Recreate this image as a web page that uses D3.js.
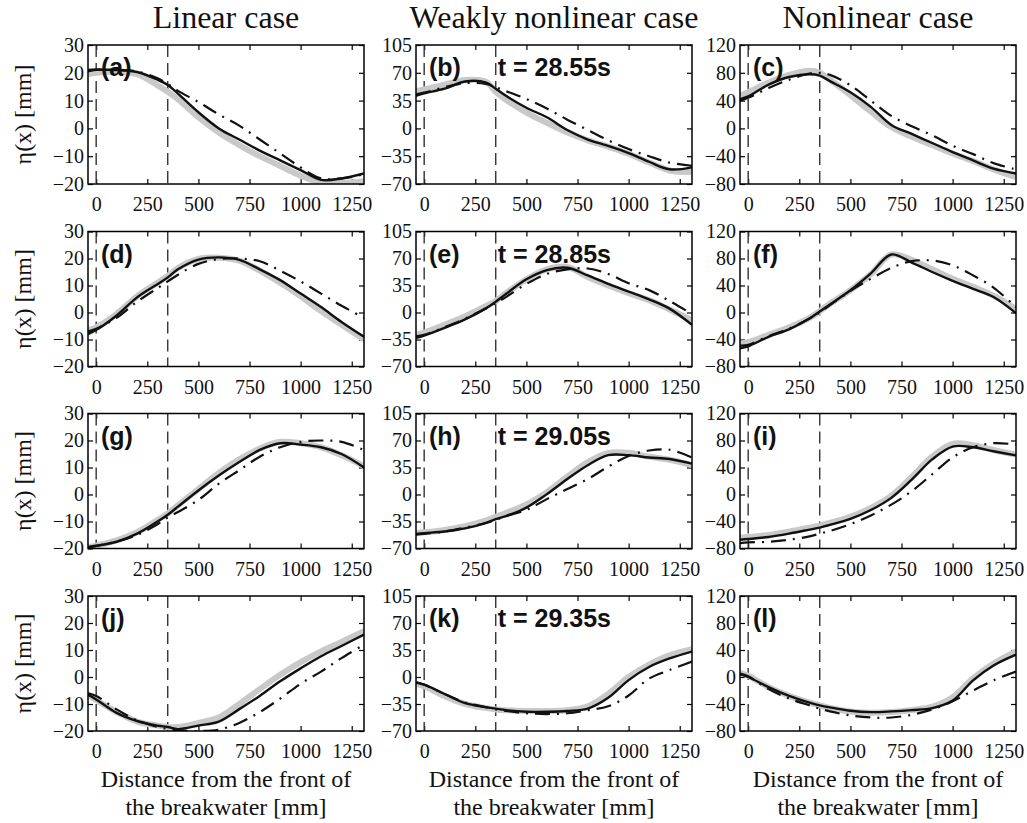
<!DOCTYPE html>
<html>
<head>
<meta charset="utf-8">
<script src="https://cdn.jsdelivr.net/npm/d3@7"></script>
<style>
  body { margin: 0; background: #fff; }
  svg text { fill: #111; }
</style>
</head>
<body>
<svg id="fig" width="1027" height="823"></svg>
<script>
// Free-surface profiles η(x) in front of and over the breakwater.
// Common abscissa (mm from the front of the breakwater).
const xs = [-40, 0, 100, 200, 300, 350, 400, 500, 600, 700, 800, 900, 1000, 1100, 1200, 1310];

const caseTitles = ["Linear case", "Weakly nonlinear case", "Nonlinear case"];
const timeLabels = ["t = 28.55s", "t = 28.85s", "t = 29.05s", "t = 29.35s"];
const panelLetters = ["(a)", "(b)", "(c)", "(d)", "(e)", "(f)", "(g)", "(h)", "(i)", "(j)", "(k)", "(l)"];
const xTicks = [0, 250, 500, 750, 1000, 1250];
const yTicksLinear = [-20, -10, 0, 10, 20, 30];
const yTicksWeak = [-70, -35, 0, 35, 70, 105];
const yTicksNonlinear = [-80, -40, 0, 40, 80, 120];
const structureEdges = [0, 350];

// measured (grey), numerical model (solid), linear theory (dash-dot)
const measA = [19.5, 20, 20.5, 19.5, 15.5, 13.2, 10.5, 4, -1.5, -6, -10, -13.5, -17, -19.5, -19.6, -19];
const modelA = [21, 21.2, 21, 20.3, 17.5, 15.6, 12.5, 5.8, 0, -4, -8, -11.5, -15, -18.5, -18, -16.2];
const linA = [20.5, 21, 21, 20.5, 18, 16, 13.5, 9.5, 5, 1, -4, -9, -14, -18, -18, -16.5];

const measB = [47, 49, 55, 61, 59, 46, 36, 20, 7, -5, -15, -23, -32, -43, -53, -55];
const modelB = [41, 44, 50, 59, 58, 50, 41, 26, 14, -2, -14, -22, -31, -42, -51.5, -49];
const linB = [43, 45, 52, 57, 56, 52, 47, 37, 25, 11, -2, -15, -26, -35, -43, -47];

const measC = [47, 52, 66, 77, 83, 80, 70, 48, 24, 2, -12, -24, -36, -47, -59, -70];
const modelC = [42, 46, 63, 74, 78, 76, 68, 52, 31, 5, -8, -21, -34, -46, -58, -65];
const linC = [40, 44, 58, 70, 79, 80, 77, 62, 40, 18, 3, -10, -25, -37, -50, -59];

const measD = [-6.5, -5.5, -0.5, 6, 11, 13.5, 16.5, 19.8, 20.3, 19.2, 15.5, 11, 6, 0.5, -4.5, -10];
const modelD = [-8, -6.5, -1.1, 5.6, 10.5, 13, 16, 19.6, 20.4, 19.5, 16, 12, 7, 2, -3.5, -9];
const linD = [-7, -6, -2, 4, 9, 11.5, 14, 18, 19.8, 20, 19, 15.5, 11.5, 7, 2.5, -2];

const measE = [-29, -26, -16, -5, 8, 15, 25, 43, 56, 59, 46, 35, 25, 16, 4, -10];
const modelE = [-33, -30, -20, -9, 5, 14, 24, 43, 55, 58, 48, 37, 27, 17, 5, -16];
const linE = [-31, -29, -19, -8, 5, 12, 20, 37, 50, 56, 57, 50, 38, 29, 15, -2];

const measF = [-46, -44, -33, -22, -8, 2, 13, 33, 57, 86, 78, 64, 50, 38, 25, 5];
const modelF = [-53, -50, -36, -25, -9, 1.5, 12, 33, 58, 86, 74, 60, 47, 35, 23, -1];
const linF = [-49, -48, -35, -24, -9, 0, 11, 32, 50, 66, 76, 77, 70, 55, 37, 8];

const measG = [-19.5, -19, -17, -14, -9.5, -7, -4, 2, 8, 13, 17, 19.5, 19, 17.5, 14.5, 10.5];
const modelG = [-19.5, -19, -17.5, -14.5, -10, -7.5, -4.5, 1.5, 7, 12, 16.5, 19, 18.5, 17.5, 15, 10];
const linG = [-19.5, -19, -17.5, -15, -11, -8.5, -6.5, -2, 4, 9, 14, 17.5, 19.5, 20, 19.5, 16.5];

const measH = [-50, -49, -46, -41, -34, -29, -24, -13, 3, 23, 42, 54, 54, 49, 45, 38];
const modelH = [-51, -50, -48, -44, -37, -32, -28, -17, 0.5, 20, 38, 51, 51, 48, 46, 40];
const linH = [-52, -51, -48, -43, -37, -33, -28, -20, -6, 7, 20, 36, 50, 57, 58, 48];

const measI = [-64, -63, -60, -55, -49, -46, -42, -33, -20, -2, 26, 56, 75, 73, 66, 59];
const modelI = [-67, -66, -63, -58, -52, -49, -45, -36, -23, -5, 22, 52, 71, 70, 64, 58];
const linI = [-72, -71, -70, -67, -62, -58, -54, -44, -31, -15, 5, 30, 55, 70, 76, 74];

const measJ = [-6.5, -8.5, -13, -16.5, -18, -18.5, -18.5, -17, -15, -10, -4.5, 0.8, 5.5, 9.5, 13, 17];
const modelJ = [-6.5, -8.3, -13.3, -16.3, -18, -18.5, -19.3, -18, -16.5, -11.9, -7, -1.6, 3.2, 7.7, 11.5, 15.7];
const linJ = [-6, -7, -12, -16, -18.5, -19.2, -19.8, -20, -19.5, -17, -13, -8, -2.5, 2, 7, 12];

const measK = [-9, -12, -25, -35, -40, -42, -43, -44, -44, -43, -38, -22, 0, 16, 28, 36];
const modelK = [-7, -10, -22, -34, -39, -41, -43, -45, -45, -44, -41, -27, -4, 13, 24, 33];
const linK = [-7, -10, -22, -33, -39, -42, -44, -47, -48, -47, -43, -38, -24, -2, 9, 20];

const measL = [6, 2, -15, -28, -38, -42, -46, -51, -53, -52, -49, -44, -30, -2, 20, 38];
const modelL = [4, 0, -15, -28, -38, -42, -45, -50, -52, -51, -49, -46, -35, -5, 17, 33];
const linL = [5, 1, -18, -32, -42, -47, -51, -57, -60, -60, -56, -48, -36, -20, -5, 8];

const measured = [measA, measB, measC, measD, measE, measF, measG, measH, measI, measJ, measK, measL];
const modelled = [modelA, modelB, modelC, modelD, modelE, modelF, modelG, modelH, modelI, modelJ, modelK, modelL];
const linearTheory = [linA, linB, linC, linD, linE, linF, linG, linH, linI, linJ, linK, linL];
const yTickSets = [yTicksLinear, yTicksWeak, yTicksNonlinear];

// ---- layout ----
const colLeft = [88, 416, 740];
const plotW = 276;
const rowTop = [45, 231.5, 413.5, 596];
const rowBottom = [184, 366.5, 548.5, 731];

const svg = d3.select("#fig");
const serif = "'Liberation Serif', 'Times New Roman', Times, serif";
const sans = "'Liberation Sans', Arial, Helvetica, sans-serif";

const x = d3.scaleLinear().domain([-40, 1310]).range([0, plotW]);

const serifText = (sel, size) => sel
  .attr("font-family", serif).style("font-family", serif).style("font-size", size + "px");
const boldText = (sel, size) => sel
  .attr("font-family", sans).style("font-family", sans)
  .style("font-size", size + "px").style("font-weight", "bold");

// column titles
caseTitles.forEach((t, c) => {
  svg.append("text")
    .attr("x", colLeft[c] + plotW / 2).attr("y", 28)
    .attr("text-anchor", "middle")
    .call(serifText, 32)
    .text(t);
});

const defs = svg.append("defs");

for (let r = 0; r < 4; r++) {
  const h = rowBottom[r] - rowTop[r];
  // y-axis title per row
  svg.append("text")
    .attr("transform", `translate(31,${rowTop[r] + h / 2}) rotate(-90)`)
    .attr("text-anchor", "middle")
    .call(serifText, 24)
    .text("η(x) [mm]");

  for (let c = 0; c < 3; c++) {
    const i = r * 3 + c;
    const ticks = yTickSets[c];
    const y = d3.scaleLinear().domain([ticks[0], ticks[ticks.length - 1]]).range([h, 0]);
    const g = svg.append("g").attr("transform", `translate(${colLeft[c]},${rowTop[r]})`);

    const clipId = "clip" + i;
    defs.append("clipPath").attr("id", clipId)
      .append("rect").attr("width", plotW).attr("height", h);

    // axes with inward ticks on all four sides
    const styleAxis = sel => {
      sel.attr("font-family", serif).attr("font-size", 20);
      sel.select(".domain").remove();
      sel.selectAll(".tick line").attr("stroke", "#000").attr("stroke-width", 1.2);
      sel.selectAll("text").call(serifText, 20).attr("fill", "#111");
    };
    g.append("g").attr("transform", `translate(0,${h})`)
      .call(d3.axisBottom(x).tickValues(xTicks).tickSize(-5).tickPadding(13).tickFormat(d3.format("d")))
      .call(styleAxis);
    g.append("g")
      .call(d3.axisTop(x).tickValues(xTicks).tickSize(-5).tickFormat(""))
      .call(styleAxis);
    g.append("g")
      .call(d3.axisLeft(y).tickValues(ticks).tickSize(-5).tickPadding(4).tickFormat(d3.format("d")))
      .call(styleAxis);
    g.append("g").attr("transform", `translate(${plotW},0)`)
      .call(d3.axisRight(y).tickValues(ticks).tickSize(-5).tickFormat(""))
      .call(styleAxis);

    const plot = g.append("g").attr("clip-path", `url(#${clipId})`);

    // structure edges
    structureEdges.forEach(xe => {
      plot.append("line")
        .attr("x1", x(xe)).attr("x2", x(xe)).attr("y1", 0).attr("y2", h)
        .attr("stroke", "#333").attr("stroke-width", 1.4)
        .attr("stroke-dasharray", "12,6");
    });

    const line = d3.line().x((d, k) => x(xs[k])).y(d => y(d)).curve(d3.curveCatmullRom.alpha(0.5));

    plot.append("path").datum(measured[i])
      .attr("d", line).attr("fill", "none")
      .attr("stroke", "#c9c9c9").attr("stroke-width", 6)
      .attr("stroke-linejoin", "round");
    plot.append("path").datum(linearTheory[i])
      .attr("d", line).attr("fill", "none")
      .attr("stroke", "#111").attr("stroke-width", 2.2)
      .attr("stroke-dasharray", "15,7,2,7");
    plot.append("path").datum(modelled[i])
      .attr("d", line).attr("fill", "none")
      .attr("stroke", "#111").attr("stroke-width", 2.4)
      .attr("stroke-linejoin", "round");

    // frame
    g.append("rect").attr("width", plotW).attr("height", h)
      .attr("fill", "none").attr("stroke", "#000").attr("stroke-width", 1.5);

    // panel letter
    g.append("text").attr("x", 13).attr("y", 31)
      .call(boldText, 25)
      .text(panelLetters[i]);

    if (c === 1) {
      g.append("text").attr("x", x(350) + 2).attr("y", 31)
        .call(boldText, 25)
        .text(timeLabels[r]);
    }
  }
}

// x-axis titles below bottom row
caseTitles.forEach((t, c) => {
  const tx = svg.append("text")
    .attr("text-anchor", "middle")
    .call(serifText, 24);
  tx.append("tspan").attr("x", colLeft[c] + plotW / 2).attr("y", 787).text("Distance from the front of");
  tx.append("tspan").attr("x", colLeft[c] + plotW / 2).attr("y", 815).text("the breakwater [mm]");
});
</script>
</body>
</html>
